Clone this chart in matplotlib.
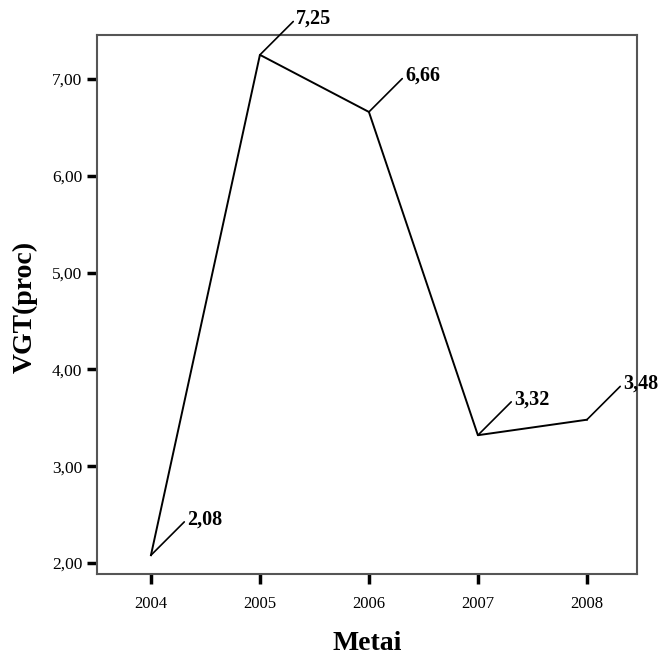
import matplotlib
matplotlib.use("Agg")
import matplotlib.pyplot as plt

years = ["2004", "2005", "2006", "2007", "2008"]
values = [2.08, 7.25, 6.66, 3.32, 3.48]
value_labels = ["2,08", "7,25", "6,66", "3,32", "3,48"]
yticks = [2.0, 3.0, 4.0, 5.0, 6.0, 7.0]
ytick_labels = ["2,00", "3,00", "4,00", "5,00", "6,00", "7,00"]

plt.rcParams['font.family'] = ['Liberation Serif', 'DejaVu Serif']

fig = plt.figure(figsize=(6.59, 6.55), dpi=100)
ax = fig.add_axes([97/659, 1-574/655, 540/659, 539/655])

x = list(range(len(years)))
ax.plot(x, values, color='black', lw=1.4)

for xi, v, lab in zip(x, values, value_labels):
    ax.annotate(lab, xy=(xi, v), xytext=(26, 26), textcoords='offset points',
                ha='left', va='center', fontsize=14.5, fontweight='bold',
                arrowprops=dict(arrowstyle='-', color='black', lw=1.2,
                                shrinkA=0, shrinkB=0, relpos=(0, 0.5)),
                annotation_clip=False)

ax.set_xlim(-0.495, 4.46)
ax.set_ylim(1.886, 7.455)
ax.set_xticks(x)
ax.set_xticklabels(years, fontsize=12)
ax.set_yticks(yticks)
ax.set_yticklabels(ytick_labels, fontsize=12.5)
ax.tick_params(direction='out', length=7, width=2.5, color='black')
ax.tick_params(axis='x', pad=9)
ax.tick_params(axis='y', pad=3.5)

for s in ax.spines.values():
    s.set_color('#555555')
    s.set_linewidth(1.5)

fig.text(25/659, 1-307/655, "VGT(proc)", rotation=90, ha='center', va='center',
         fontsize=20, fontweight='bold')
fig.text(367/659, 1-643/655, "Metai", ha='center', va='center',
         fontsize=20, fontweight='bold')

fig.savefig("out.png", dpi=100)
